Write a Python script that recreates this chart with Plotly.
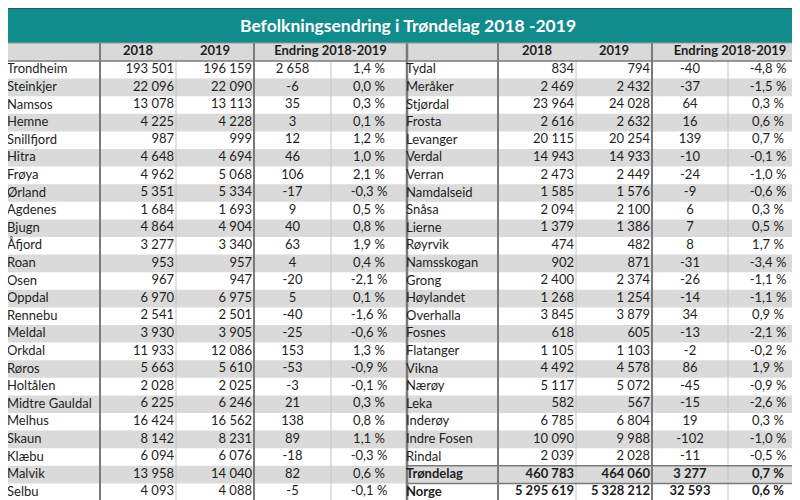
import plotly.graph_objects as go

# ---------------- data ----------------
title = "Befolkningsendring i Trøndelag 2018 -2019"
year_a = "2018"
year_b = "2019"
change_label = "Endring 2018-2019"

left_names = ["Trondheim", "Steinkjer", "Namsos", "Hemne", "Snillfjord", "Hitra", "Frøya",
              "Ørland", "Agdenes", "Bjugn", "Åfjord", "Roan", "Osen", "Oppdal", "Rennebu",
              "Meldal", "Orkdal", "Røros", "Holtålen", "Midtre Gauldal", "Melhus", "Skaun",
              "Klæbu", "Malvik", "Selbu"]
left_2018 = [193501, 22096, 13078, 4225, 987, 4648, 4962, 5351, 1684, 4864, 3277, 953, 967,
             6970, 2541, 3930, 11933, 5663, 2028, 6225, 16424, 8142, 6094, 13958, 4093]
left_2019 = [196159, 22090, 13113, 4228, 999, 4694, 5068, 5334, 1693, 4904, 3340, 957, 947,
             6975, 2501, 3905, 12086, 5610, 2025, 6246, 16562, 8231, 6076, 14040, 4088]
left_change = [2658, -6, 35, 3, 12, 46, 106, -17, 9, 40, 63, 4, -20, 5, -40, -25, 153, -53,
               -3, 21, 138, 89, -18, 82, -5]
left_pct = [1.4, 0.0, 0.3, 0.1, 1.2, 1.0, 2.1, -0.3, 0.5, 0.8, 1.9, 0.4, -2.1, 0.1, -1.6,
            -0.6, 1.3, -0.9, -0.1, 0.3, 0.8, 1.1, -0.3, 0.6, -0.1]

right_names = ["Tydal", "Meråker", "Stjørdal", "Frosta", "Levanger", "Verdal", "Verran",
               "Namdalseid", "Snåsa", "Lierne", "Røyrvik", "Namsskogan", "Grong", "Høylandet",
               "Overhalla", "Fosnes", "Flatanger", "Vikna", "Nærøy", "Leka", "Inderøy",
               "Indre Fosen", "Rindal"]
right_2018 = [834, 2469, 23964, 2616, 20115, 14943, 2473, 1585, 2094, 1379, 474, 902, 2400,
              1268, 3845, 618, 1105, 4492, 5117, 582, 6785, 10090, 2039]
right_2019 = [794, 2432, 24028, 2632, 20254, 14933, 2449, 1576, 2100, 1386, 482, 871, 2374,
              1254, 3879, 605, 1103, 4578, 5072, 567, 6804, 9988, 2028]
right_change = [-40, -37, 64, 16, 139, -10, -24, -9, 6, 7, 8, -31, -26, -14, 34, -13, -2, 86,
                -45, -15, 19, -102, -11]
right_pct = [-4.8, -1.5, 0.3, 0.6, 0.7, -0.1, -1.0, -0.6, 0.3, 0.5, 1.7, -3.4, -1.1, -1.1,
             0.9, -2.1, -0.2, 1.9, -0.9, -2.6, 0.3, -1.0, -0.5]

total_names = ["Trøndelag", "Norge"]
total_2018 = [460783, 5295619]
total_2019 = [464060, 5328212]
total_change = [3277, 32593]
total_pct = [0.7, 0.6]

# ---------------- layout constants ----------------
W, H = 800, 500
TEAL = "#118c8c"
GRAY = "#dadada"
HEAD_GRAY = "#d9d9d9"
DARK_LINE = "#7a7a7a"
THIN_LINE = "#c4c4c4"
TEXT_COLOR = "#1e1e1e"
FONT = "Lato"
FS = 13

title_bottom = 35
header_top, header_bottom = 35, 53
row_h = 17.6

left_edges = [0, 92, 168, 246, 323, 399]
right_edges = [399, 490, 568, 644, 720, 800]


def fmt_int(v):
    return f"{v:,}".replace(",", " ")


def fmt_pct(v):
    return f"{v:.1f}".replace(".", ",") + " %"


def row_top(i):
    return header_bottom + i * row_h


n_rows = len(left_names)
table_bottom = row_top(n_rows)

fig = go.Figure()
shapes = []
annotations = []

# title bar
shapes.append(dict(type="rect", x0=0, x1=W, y0=0, y1=title_bottom, fillcolor=TEAL,
                   line=dict(width=0), layer="below"))
shapes.append(dict(type="line", x0=0, x1=W, y0=0.5, y1=0.5, line=dict(color="#235e5e", width=1.5)))
# header band
shapes.append(dict(type="rect", x0=0, x1=W, y0=header_top, y1=header_bottom, fillcolor=HEAD_GRAY,
                   line=dict(width=0), layer="below"))


def add_panel(edges, names, a, b, ch, pct, bold_from=None):
    n = len(names)
    for i in range(n):
        if i % 2 == 1:
            shapes.append(dict(type="rect", x0=edges[0], x1=edges[-1], y0=row_top(i),
                               y1=row_top(i + 1), fillcolor=GRAY, line=dict(width=0),
                               layer="below"))
    ys = [row_top(i) + row_h / 2 for i in range(n)]

    def wrap(lst, i):
        s = lst[i]
        if bold_from is not None and i >= bold_from:
            return f"<b>{s}</b>"
        return s

    # name column (left aligned)
    for i in range(n):
        annotations.append(dict(x=edges[0] + 0.5, y=ys[i], xref="x", yref="y", xanchor="left",
                                yanchor="middle", showarrow=False, text=wrap(names, i),
                                borderpad=0, xshift=-3, yshift=1.5,
                                font=dict(family=FONT, size=FS, color=TEXT_COLOR)))

    cols = [
        ([fmt_int(v) for v in a], edges[2] - 2, "middle left"),
        ([fmt_int(v) for v in b], edges[3] - 2, "middle left"),
        ([fmt_int(v) for v in ch], (edges[3] + edges[4]) / 2, "middle center"),
        ([fmt_pct(v) for v in pct], (edges[4] + edges[5]) / 2, "middle center"),
    ]
    for texts, x, pos in cols:
        fig.add_trace(go.Scatter(
            x=[x] * n, y=ys, mode="text",
            text=[wrap(texts, i) for i in range(n)],
            textposition=pos,
            textfont=dict(family=FONT, size=FS, color=TEXT_COLOR),
            hoverinfo="skip", showlegend=False, cliponaxis=False))

    # header labels
    hy = (header_top + header_bottom) / 2
    fig.add_trace(go.Scatter(
        x=[(edges[1] + edges[2]) / 2, (edges[2] + edges[3]) / 2, (edges[3] + edges[5]) / 2],
        y=[hy] * 3, mode="text",
        text=[f"<b>{year_a}</b>", f"<b>{year_b}</b>", f"<b>{change_label}</b>"],
        textposition="middle center",
        textfont=dict(family=FONT, size=FS, color=TEXT_COLOR),
        hoverinfo="skip", showlegend=False, cliponaxis=False))

    # vertical separators
    for k, x in enumerate(edges):
        if k in (1, 3):
            shapes.append(dict(type="line", x0=x, x1=x, y0=header_top, y1=table_bottom,
                               line=dict(color=DARK_LINE, width=2)))
        elif k in (2, 4):
            shapes.append(dict(type="line", x0=x, x1=x, y0=header_bottom, y1=table_bottom,
                               line=dict(color=THIN_LINE, width=1)))


add_panel(left_edges, left_names, left_2018, left_2019, left_change, left_pct)
add_panel(right_edges, right_names + total_names, right_2018 + total_2018,
          right_2019 + total_2019, right_change + total_change, right_pct + total_pct,
          bold_from=len(right_names))

# centre divider
shapes.append(dict(type="line", x0=399, x1=399, y0=header_top, y1=table_bottom,
                   line=dict(color=DARK_LINE, width=2.5)))
# horizontal lines
shapes.append(dict(type="line", x0=0, x1=W, y0=header_top, y1=header_top,
                   line=dict(color="#9a9a9a", width=1)))
shapes.append(dict(type="line", x0=0, x1=W, y0=header_bottom, y1=header_bottom,
                   line=dict(color=DARK_LINE, width=1.5)))
shapes.append(dict(type="line", x0=0, x1=W, y0=table_bottom, y1=table_bottom,
                   line=dict(color=DARK_LINE, width=1.5)))
nr = len(right_names)
for i in (nr, nr + 1):
    shapes.append(dict(type="line", x0=399, x1=W, y0=row_top(i), y1=row_top(i),
                       line=dict(color=DARK_LINE, width=1.5)))
shapes.append(dict(type="line", x0=W - 1, x1=W - 1, y0=header_top, y1=table_bottom,
                   line=dict(color=THIN_LINE, width=1)))

annotations.append(dict(x=W / 2, y=title_bottom / 2, xref="x", yref="y", text=f"<b>{title}</b>",
                        showarrow=False, font=dict(family=FONT, size=17.5, color="white")))

fig.update_layout(
    width=W, height=H, margin=dict(l=0, r=0, t=0, b=0),
    paper_bgcolor="white", plot_bgcolor="white", shapes=shapes, annotations=annotations,
    xaxis=dict(range=[0, W], visible=False, fixedrange=True),
    yaxis=dict(range=[H, 0], visible=False, fixedrange=True),
)

fig.write_html("out.html")
